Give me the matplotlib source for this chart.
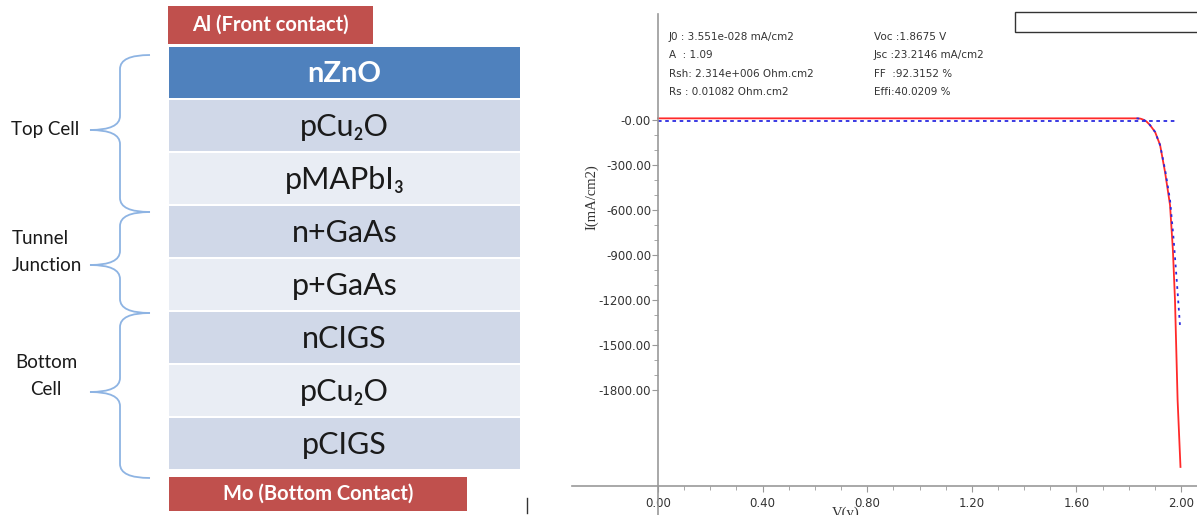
import matplotlib
matplotlib.use("Agg")
import matplotlib.pyplot as plt
from matplotlib.path import Path
from matplotlib.patches import PathPatch, Rectangle
from matplotlib.ticker import FixedLocator, FixedFormatter

plt.rcParams['axes.unicode_minus'] = False

# ---------------- data ----------------
layer_names = ["nZnO", "pCu\u2082O", "pMAPbI\u2083", "n+GaAs", "p+GaAs", "nCIGS", "pCu\u2082O", "pCIGS"]
layer_colors = ["#4F81BD", "#D0D8E8", "#E9EDF4", "#D0D8E8", "#E9EDF4", "#D0D8E8", "#E9EDF4", "#D0D8E8"]
front_contact = "Al (Front contact)"
back_contact = "Mo (Bottom Contact)"
group_labels = ["Top Cell", "Tunnel\nJunction", "Bottom\nCell"]
group_align = ["center", "left", "center"]

V_red = [0.0, 1.83, 1.845, 1.855, 1.868, 1.881, 1.901, 1.920, 1.939, 1.958, 1.969, 1.977, 1.987, 1.998]
I_red = [11, 11, 9, 3, -10, -33, -80, -167, -347, -567, -867, -1200, -1867, -2313]
V_blue_flat = [0.0, 1.99]
I_blue_flat = [-5, -5]
V_blue = [1.83, 1.845, 1.855, 1.868, 1.881, 1.901, 1.920, 1.940, 1.958, 1.972, 1.985, 1.996]
I_blue = [11, 9, 3, -10, -33, -80, -167, -340, -533, -800, -1100, -1367]

x_ticks = [0.0, 0.4, 0.8, 1.2, 1.6, 2.0]
x_ticklabels = ["0.00", "0.40", "0.80", "1.20", "1.60", "2.00"]
y_ticks = [0, -300, -600, -900, -1200, -1500, -1800]
y_ticklabels = ["-0.00", "-300.00", "-600.00", "-900.00", "-1200.00", "-1500.00", "-1800.00"]

params_left = ["J0 : 3.551e-028 mA/cm2", "A  : 1.09", "Rsh: 2.314e+006 Ohm.cm2", "Rs : 0.01082 Ohm.cm2"]
params_right = ["Voc :1.8675 V", "Jsc :23.2146 mA/cm2", "FF  :92.3152 %", "Effi:40.0209 %"]

# ---------------- figure ----------------
W, H = 1197, 515
fig = plt.figure(figsize=(W / 100, H / 100), dpi=100)
fig.patch.set_facecolor("white")

# overlay axes in pixel coordinates for the diagram
ax0 = fig.add_axes([0, 0, 1, 1])
ax0.set_xlim(0, W)
ax0.set_ylim(H, 0)
ax0.axis("off")

FONT = ["Lato", "DejaVu Sans"]

stack_left, stack_right = 169, 520
stack_top, pitch = 46, 53.0
n = len(layer_names)
centers = [stack_top + pitch * (i + 0.5) for i in range(n)]
ax0.barh(centers, [stack_right - stack_left] * n, left=stack_left, height=pitch - 2.5,
         color=layer_colors, edgecolor="none")
for i, (c, name) in enumerate(zip(centers, layer_names)):
    if i == 0:
        ax0.text((stack_left + stack_right) / 2, c + 9, name, ha="center", va="baseline",
                 fontsize=21, color="white", fontweight="bold", family=FONT)
    else:
        ax0.text((stack_left + stack_right) / 2, c + 10.5, name, ha="center", va="baseline",
                 fontsize=22, color="#1a1a1a", family=FONT)

# contacts
ax0.barh([25], [373 - 168], left=168, height=38, color="#C0504D")
ax0.text((168 + 373) / 2, 25, front_contact, ha="center", va="center", fontsize=14.5,
         color="white", fontweight="bold", family=FONT)
ax0.barh([494], [467 - 169], left=169, height=34, color="#C0504D")
ax0.text((169 + 467) / 2, 494, back_contact, ha="center", va="center", fontsize=14.5,
         color="white", fontweight="bold", family=FONT)

# braces
def brace(y0, y1, ym, x_end=150, xs=120, xt=90, r=14):
    verts = [(x_end, y0), (xs, y0), (xs, y0 + r),
             (xs, ym - r),
             (xs, ym), (xt, ym),
             (xs, ym), (xs, ym + r),
             (xs, y1 - r),
             (xs, y1), (x_end, y1)]
    codes = [Path.MOVETO, Path.CURVE3, Path.CURVE3,
             Path.LINETO,
             Path.CURVE3, Path.CURVE3,
             Path.CURVE3, Path.CURVE3,
             Path.LINETO,
             Path.CURVE3, Path.CURVE3]
    ax0.add_patch(PathPatch(Path(verts, codes), facecolor="none", edgecolor="#8EB4E3", lw=1.3))

brace_bounds = [(55, 212, 130), (212, 313, 265), (313, 478, 392)]
label_pos = [(45, 130), (12, 252), (46, 376)]
for (y0, y1, ym), (lx, ly), lab, al in zip(brace_bounds, label_pos, group_labels, group_align):
    brace(y0, y1, ym)
    ax0.text(lx, ly, lab, ha=al, va="center", fontsize=13.5, color="#1a1a1a",
             family=FONT, linespacing=1.65, multialignment=al)

# small stray mark
ax0.plot([527, 527], [498, 513], color="#333333", lw=1)

# ---------------- I-V chart ----------------
x_px0, x_px1 = 572, W
px_per_V = 261.5
x0_px = 658
xlim = ((x_px0 - x0_px) / px_per_V, (x_px1 - x0_px) / px_per_V)
y0_px = 120
px_per_I = 0.15
top_px, bot_px = 14, H
ylim = (-(bot_px - y0_px) / px_per_I, (y0_px - top_px) / px_per_I)
xaxis_val = -(486 - y0_px) / px_per_I

ax = fig.add_axes([x_px0 / W, (H - bot_px) / H, (x_px1 - x_px0) / W, (bot_px - top_px) / H])
ax.set_facecolor("none")
ax.set_xlim(*xlim)
ax.set_ylim(*ylim)
for s in ["top", "right"]:
    ax.spines[s].set_visible(False)
ax.spines["left"].set_position(("data", 0))
ax.spines["bottom"].set_position(("data", xaxis_val))
for s in ["left", "bottom"]:
    ax.spines[s].set_color("#999999")
    ax.spines[s].set_linewidth(1.2)

ax.plot(V_red, I_red, color="#FF2A2A", lw=1.3)
ax.plot(V_blue_flat, I_blue_flat, color="#2B2BE0", lw=1.3, linestyle=(0, (2, 2)))
ax.plot(V_blue, I_blue, color="#2B2BE0", lw=1.3, linestyle=(0, (1.5, 2.5)))

ax.xaxis.set_major_locator(FixedLocator(x_ticks))
ax.xaxis.set_major_formatter(FixedFormatter(x_ticklabels))
ax.xaxis.set_minor_locator(FixedLocator([i / 10 for i in range(0, 21)]))
ax.yaxis.set_major_locator(FixedLocator(y_ticks))
ax.yaxis.set_major_formatter(FixedFormatter(y_ticklabels))
ax.yaxis.set_minor_locator(FixedLocator(list(range(0, -1801, -100))))
ax.tick_params(axis="both", which="both", colors="#999999", labelcolor="#333333",
               direction="out", labelsize=8.5)
ax.tick_params(axis="both", which="major", length=4)
ax.tick_params(axis="both", which="minor", length=3)
ax.tick_params(axis="x", pad=4)
ax.tick_params(axis="y", pad=1)
for lab in ax.get_xticklabels() + ax.get_yticklabels():
    lab.set_fontfamily("DejaVu Sans")

def fx(x):
    return x / W

def fy(y):
    return 1 - y / H

fig.text(fx(592), fy(197), "I(mA/cm2)", rotation=90, ha="center", va="center",
         fontsize=10.5, family="Liberation Serif", color="#333333")
fig.text(fx(846), fy(507), "V(v)", ha="center", va="top", fontsize=10.5,
         family="Liberation Serif", color="#333333")

line_ys = [37, 55, 74, 92]
for t, yy in zip(params_left, line_ys):
    fig.text(fx(669), fy(yy), t, ha="left", va="center", fontsize=7.5,
             family="DejaVu Sans", color="#333333")
for t, yy in zip(params_right, line_ys):
    fig.text(fx(874), fy(yy), t, ha="left", va="center", fontsize=7.5,
             family="DejaVu Sans", color="#333333")

# empty legend box
ax0.add_patch(Rectangle((1015, 12), 190, 20, facecolor="white", edgecolor="#333333", lw=1))

fig.savefig("out.png", dpi=100, facecolor="white")
